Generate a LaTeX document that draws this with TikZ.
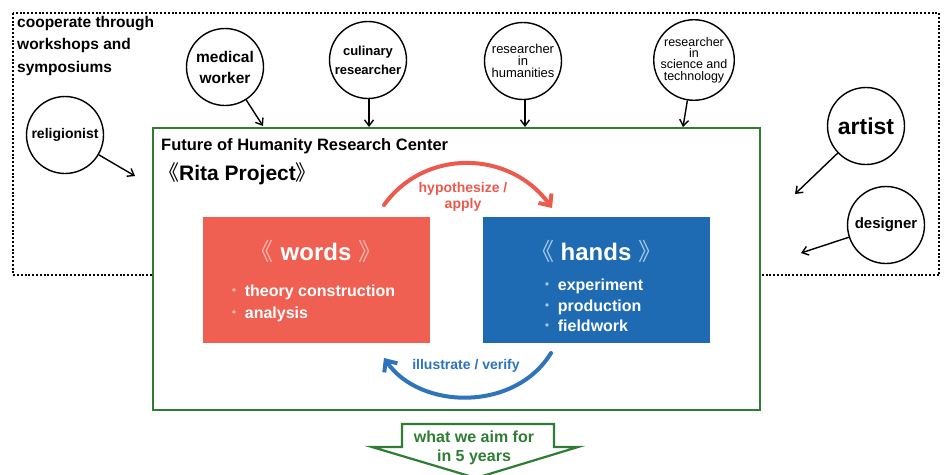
\documentclass[tikz,border=0pt]{standalone}
\usepackage{fontspec}
\setmainfont{Liberation Sans}
\newfontfamily\cjk{Noto Sans CJK SC}
\usetikzlibrary{arrows.meta}
\definecolor{redbox}{HTML}{EF5F52}
\definecolor{redarrow}{HTML}{EB5A4D}
\definecolor{redlight}{HTML}{F8B8B0}
\definecolor{bluebox}{HTML}{1F6BB3}
\definecolor{bluearrow}{HTML}{2D74BB}
\definecolor{bluelight}{HTML}{A5C8EA}
\definecolor{frgreen}{HTML}{2F7D32}
\tikzset{
  person/.style={circle, draw=black, line width=1.4pt, minimum size=77pt, inner sep=0pt, align=center, fill=white},
  link/.style={-{Straight Barb[length=6pt,width=9pt,line width=1.4pt]}, line width=1.4pt},
  box/.style={inner sep=0pt, minimum width=227pt, minimum height=126pt},
  bigarrow/.style={line width=4pt, line cap=round},
}
\begin{document}
\begin{tikzpicture}[x=1pt,y=-1pt]
\useasboundingbox (0,0) rectangle (947,474);
% dotted cooperation frame
\draw[line width=2.8pt, dash pattern=on 2pt off 1.8pt] (13,13) rectangle (939,275);
\node[anchor=north west, align=left, inner sep=0pt, font=\fontsize{15.5}{22.5}\selectfont\bfseries] (coop) at (17,16) {cooperate through\\workshops and\\symposiums};
% green center
\draw[frgreen, line width=2.5pt, fill=white] (153,128) rectangle (760,410);
\node[anchor=west, inner sep=0pt, font=\fontsize{16.5}{20}\selectfont\bfseries] (center) at (161,146) {Future of Humanity Research Center};
\node[anchor=west, inner sep=0pt, font=\fontsize{21}{24}\selectfont\bfseries] (rita) at (158,174) {{\cjk\mdseries 《}Rita Project{\cjk\mdseries 》}};
% boxes
\node[box, fill=redbox] (words) at (316.5,280) {};
\node[box, fill=bluebox] (hands) at (596.5,280) {};
\node[text=white, font=\fontsize{24}{28}\selectfont\bfseries] (wt) at (316,251) {{\cjk\mdseries\color{redlight}《}\ words\ {\cjk\mdseries\color{redlight}》}};
\node[text=white, font=\fontsize{24}{28}\selectfont\bfseries] (ht) at (596,251) {{\cjk\mdseries\color{bluelight}《}\ hands\ {\cjk\mdseries\color{bluelight}》}};
\node[anchor=west, text=white, align=left, inner sep=0pt, font=\fontsize{16}{22}\selectfont\bfseries] (wl) at (226,303) {{\cjk\mdseries\color{redlight}・}\,theory construction\\{\cjk\mdseries\color{redlight}・}\,analysis};
\node[anchor=west, text=white, align=left, inner sep=0pt, font=\fontsize{16}{20.5}\selectfont\bfseries] (hl) at (539,305.5) {{\cjk\mdseries\color{bluelight}・}\,experiment\\{\cjk\mdseries\color{bluelight}・}\,production\\{\cjk\mdseries\color{bluelight}・}\,fieldwork};
% curved arrows
\coordinate (ra) at (384,205);
\coordinate (rb) at (552,208);
\draw[bigarrow, redarrow, -{Straight Barb[length=9pt,width=16pt,line width=4pt]}] (ra) .. controls (425,148) and (510,150) .. (rb);
\node[text=redarrow, align=center, font=\fontsize{14}{16}\selectfont\bfseries] (hyp) at (463,197) {hypothesize /\\apply};
\coordinate (ba) at (551,353);
\coordinate (bb) at (384,358);
\draw[bigarrow, bluearrow, -{Straight Barb[length=9pt,width=16pt,line width=4pt]}] (ba) .. controls (515,412) and (420,410) .. (bb);
\node[text=bluearrow, font=\fontsize{14}{16}\selectfont\bfseries] (ill) at (466,366) {illustrate / verify};
% people
\node[person, font=\fontsize{14}{16}\selectfont\bfseries] (rel) at (65,135) {religionist};
\node[person, font=\fontsize{15.5}{21}\selectfont\bfseries] (med) at (225,67) {medical\\worker};
\node[person, font=\fontsize{13}{19}\selectfont\bfseries] (cul) at (368,60) {culinary\\researcher};
\node[person, font=\fontsize{13}{12.2}\selectfont] (hum) at (523,61) {researcher\\in\\humanities};
\node[person, font=\fontsize{12.5}{11.2}\selectfont] (sci) at (694,60) {researcher\\in\\science and\\technology};
\node[person, font=\fontsize{23}{26}\selectfont\bfseries] (art) at (866,126) {artist};
\node[person, font=\fontsize{15}{18}\selectfont\bfseries] (des) at (886,225) {designer};
% targets
\coordinate (trel) at (135,176);
\coordinate (tmed) at (263,126);
\coordinate (tcul) at (369,127);
\coordinate (thum) at (525,127);
\coordinate (tsci) at (683,127);
\coordinate (tart) at (795,194);
\coordinate (tdes) at (801,253);
\draw[link] (rel) -- (trel);
\draw[link] (med) -- (tmed);
\draw[link] (cul.south -| tcul) -- (tcul);
\draw[link] (hum.south -| thum) -- (thum);
\draw[link] (sci) -- (tsci);
\draw[link] (art) -- (tart);
\draw[link] (des) -- (tdes);
% bottom arrow
\draw[frgreen, line width=2.2pt, line join=miter, fill=white] (402,424) -- (554,424) -- (554,447) -- (578,447) -- (476,478) -- (372,447) -- (402,447) -- cycle;
\node[text=frgreen, align=center, font=\fontsize{16}{19.5}\selectfont\bfseries] (aim) at (474,448) {what we aim for\\in 5 years};
\end{tikzpicture}
\end{document}
